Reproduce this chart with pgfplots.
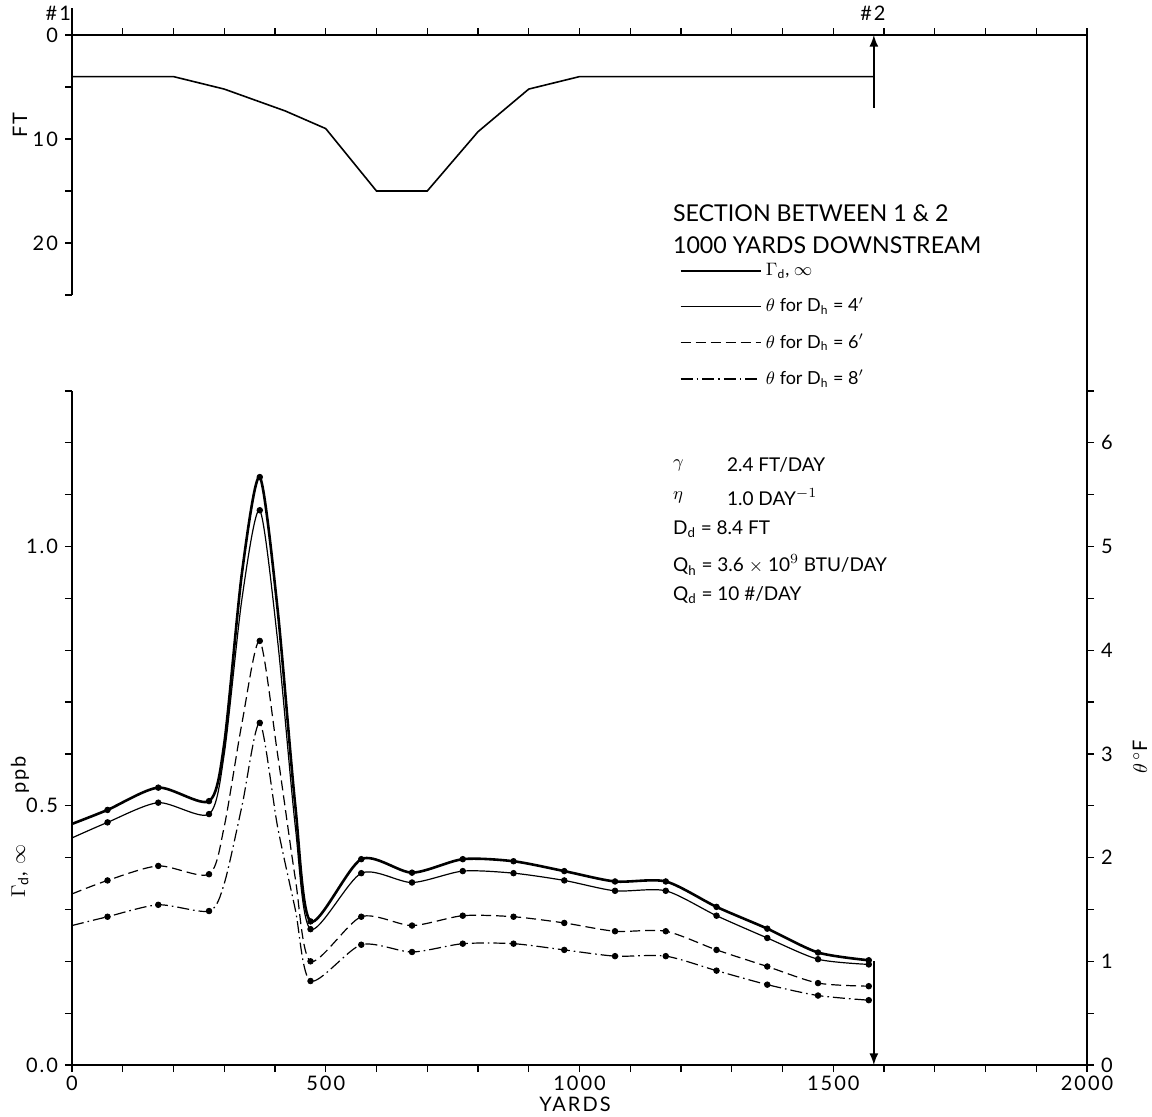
\documentclass[border=0pt]{standalone}
\usepackage{fontspec}
\setmainfont{Lato}
\newfontfamily\lblfont[LetterSpace=10]{Lato}
\usepackage{pgfplots}
\usepackage{pgfplotstable}
\pgfplotsset{compat=1.18}

% Gamma_d,inf (ppb): curve points (including unmarked shape points read off the peak)
\pgfplotstableread{
x y
0 0.465
70 0.492
170 0.535
270 0.509
300 0.62
335 0.95
370 1.134
405 0.88
440 0.50
470 0.277
570 0.397
670 0.371
770 0.397
870 0.393
970 0.374
1070 0.354
1170 0.354
1270 0.305
1370 0.263
1470 0.217
1570 0.202
}\gcurve
\pgfplotstableread{
x y
70 0.492
170 0.535
270 0.509
370 1.134
470 0.277
570 0.397
670 0.371
770 0.397
870 0.393
970 0.374
1070 0.354
1170 0.354
1270 0.305
1370 0.263
1470 0.217
1570 0.202
}\gmarks
% theta for D_h = 4' (deg F)
\pgfplotstableread{
x y
0 2.19
70 2.34
170 2.53
270 2.42
300 3.0
335 4.5
370 5.35
405 4.1
440 2.3
470 1.31
570 1.85
670 1.76
770 1.87
870 1.85
970 1.78
1070 1.68
1170 1.68
1270 1.44
1370 1.225
1470 1.02
1570 0.97
}\tfourcurve
\pgfplotstableread{
x y
70 2.34
170 2.53
270 2.42
370 5.35
470 1.31
570 1.85
670 1.76
770 1.87
870 1.85
970 1.78
1070 1.68
1170 1.68
1270 1.44
1370 1.225
1470 1.02
1570 0.97
}\tfourmarks
% theta for D_h = 6' (deg F)
\pgfplotstableread{
x y
0 1.65
70 1.78
170 1.92
270 1.84
300 2.3
335 3.3
370 4.09
405 3.0
440 1.8
470 1.00
570 1.43
670 1.345
770 1.44
870 1.43
970 1.37
1070 1.29
1170 1.29
1270 1.11
1370 0.95
1470 0.79
1570 0.76
}\tsixcurve
\pgfplotstableread{
x y
70 1.78
170 1.92
270 1.84
370 4.09
470 1.00
570 1.43
670 1.345
770 1.44
870 1.43
970 1.37
1070 1.29
1170 1.29
1270 1.11
1370 0.95
1470 0.79
1570 0.76
}\tsixmarks
% theta for D_h = 8' (deg F)
\pgfplotstableread{
x y
0 1.345
70 1.43
170 1.545
270 1.485
300 1.75
335 2.5
370 3.30
405 2.3
440 1.5
470 0.81
570 1.16
670 1.09
770 1.17
870 1.17
970 1.11
1070 1.05
1170 1.05
1270 0.91
1370 0.775
1470 0.67
1570 0.625
}\teightcurve
\pgfplotstableread{
x y
70 1.43
170 1.545
270 1.485
370 3.30
470 0.81
570 1.16
670 1.09
770 1.17
870 1.17
970 1.11
1070 1.05
1170 1.05
1270 0.91
1370 0.775
1470 0.67
1570 0.625
}\teightmarks

\pgfplotsset{
  common/.style={
    scale only axis, width=507.5pt,
    xmin=0, xmax=2000,
    tick align=outside,
    major tick length=3.5pt, minor tick length=3.5pt,
    every tick/.style={black, line width=0.6pt},
    axis line style={line width=0.8pt},
    ticklabel style={font=\lblfont\fontsize{10}{10}\selectfont},
    /pgf/number format/assume math mode=true,
    /pgf/number format/1000 sep={},
    clip=false,
  },
  curve/.style={black, smooth, tension=0.45, mark=none},
  dots/.style={black, only marks, mark=*, mark size=1.4pt, forget plot},
}

\begin{document}
\begin{tikzpicture}[x=1pt,y=1pt]
\useasboundingbox (-36pt,-25.5pt) rectangle (540pt,532.5pt);

% ---------------- upper panel: depth profile ----------------
\begin{axis}[common, name=upper, at={(0pt,385pt)}, anchor=south west, height=130pt,
  ymin=0, ymax=25, y dir=reverse,
  axis x line*=top, axis y line*=left,
  xtick={0,100,...,2000}, xticklabels={},
  ytick={0,10,20}, minor ytick={5,15,25},
]
\addplot[black, line width=0.8pt] coordinates {
  (0,4) (200,4) (300,5.2) (420,7.3) (500,9) (600,15) (700,15)
  (800,9.3) (900,5.2) (1000,4) (1580,4)
};
\draw[black, line width=0.8pt] (axis cs:0,0) -- (axis cs:0,-2.6);
\draw[black, line width=1pt, -latex] (axis cs:1580,7) -- (axis cs:1580,0);
\end{axis}

% ---------------- lower panel: Gamma (ppb) ----------------
\begin{axis}[common, name=lower, at={(0pt,0pt)}, anchor=south west, height=337pt,
  ymin=0, ymax=1.3,
  axis x line*=bottom, axis y line*=left,
  xtick={0,500,1000,1500,2000},
  minor xtick={100,200,300,400,600,700,800,900,1100,1200,1300,1400,1600,1700,1800,1900},
  ytick={0,0.5,1.0}, yticklabels={0.0,0.5,1.0},
  minor ytick={0.1,0.2,0.3,0.4,0.6,0.7,0.8,0.9,1.1,1.2,1.3},
  xticklabel style={yshift=1.5pt},
]
\addplot[curve, line width=1.3pt] table {\gcurve};
\addplot[dots] table {\gmarks};
\draw[black, line width=1pt, -latex] (axis cs:1580,0.2) -- (axis cs:1580,0);
\end{axis}

% ---------------- lower panel: theta (deg F), right axis ----------------
\begin{axis}[common, name=right, at={(0pt,0pt)}, anchor=south west, height=337pt,
  ymin=0, ymax=6.5,
  axis x line=none, axis y line*=right,
  ytick={0,1,2,3,4,5,6},
  minor ytick={0.5,1.5,2.5,3.5,4.5,5.5,6.5},
  legend style={at={(axis description cs:0.598,1.196)}, anchor=north west,
    draw=none, fill=none, inner sep=0pt, row sep=5.5pt,
    font=\fontsize{9}{10}\selectfont, cells={anchor=west}},
  legend image code/.code={\draw[#1] (0pt,0pt) -- (40pt,0pt);},
]
\addlegendimage{black, line width=1.3pt}
\addlegendentry{$\Gamma$\textsubscript{d}, $\infty$}
\addplot[curve, line width=0.6pt] table {\tfourcurve};
\addlegendentry{$\theta$ for D\textsubscript{h} = 4$'$}
\addplot[curve, line width=0.6pt, dash pattern=on 5pt off 2.5pt] table {\tsixcurve};
\addlegendentry{$\theta$ for D\textsubscript{h} = 6$'$}
\addplot[curve, line width=0.6pt, dash pattern=on 6pt off 2pt on 0.8pt off 2pt] table {\teightcurve};
\addlegendentry{$\theta$ for D\textsubscript{h} = 8$'$}
\addplot[dots] table {\tfourmarks};
\addplot[dots] table {\tsixmarks};
\addplot[dots] table {\teightmarks};
\end{axis}

% right border joining the two panels
\draw[black, line width=0.8pt] (507.5pt,337pt) -- (507.5pt,515pt);

% labels
\node[anchor=east, font=\lblfont\fontsize{10}{10}\selectfont] at (3pt,526pt) {\#1};
\node[font=\lblfont\fontsize{10}{10}\selectfont] at (400.5pt,526pt) {\#2};
\node[rotate=90, font=\lblfont\fontsize{10}{10}\selectfont] at (-26pt,470pt) {FT};
\node[rotate=90, font=\lblfont\fontsize{10}{10}\selectfont] at (-26pt,145pt) {ppb};
\node[rotate=90, font=\lblfont\fontsize{10}{10}\selectfont] at (-26pt,97pt) {$\Gamma$\textsubscript{d}, $\infty$};
\node[rotate=90, font=\lblfont\fontsize{10}{10}\selectfont] at (534pt,154pt) {$\theta$\,$^\circ$F};
\node[font=\lblfont\fontsize{10}{10}\selectfont] at (251.5pt,-19.5pt) {YARDS};

\node[anchor=west, font=\fontsize{11.6}{12}\selectfont] at (297pt,426pt) {SECTION BETWEEN 1 \& 2};
\node[anchor=west, font=\fontsize{11.6}{12}\selectfont] at (297pt,410pt) {1000 YARDS DOWNSTREAM};

\begin{scope}[font=\fontsize{9.5}{10}\selectfont]
\node[anchor=west] at (297pt,300pt) {$\gamma$};
\node[anchor=west] at (324pt,300pt) {2.4 FT/DAY};
\node[anchor=west] at (297pt,284pt) {$\eta$};
\node[anchor=west] at (324pt,284pt) {1.0 DAY$^{-1}$};
\node[anchor=west] at (297pt,268pt) {D\textsubscript{d} = 8.4 FT};
\node[anchor=west] at (297pt,250pt) {Q\textsubscript{h} = 3.6 $\times$ 10$^{9}$ BTU/DAY};
\node[anchor=west] at (297pt,235pt) {Q\textsubscript{d} = 10 \#/DAY};
\end{scope}
\end{tikzpicture}
\end{document}
